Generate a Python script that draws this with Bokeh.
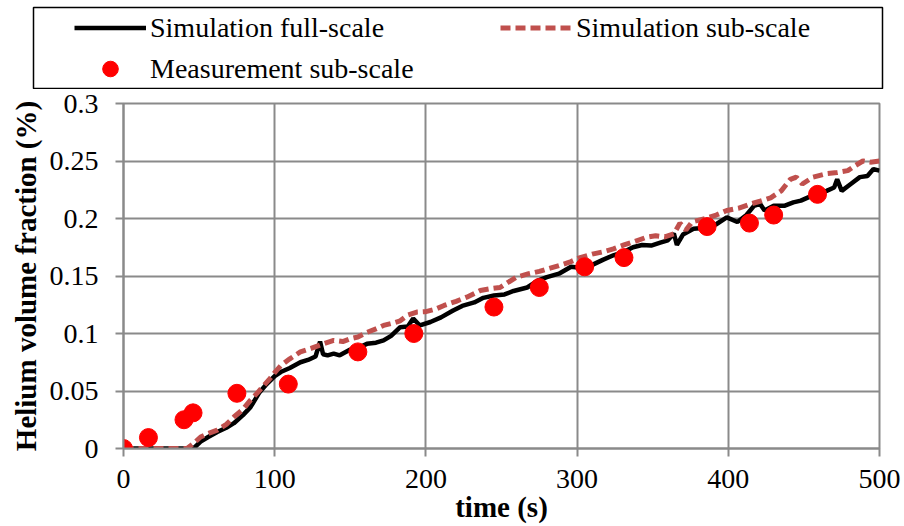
from bokeh.plotting import figure
from bokeh.models import Legend, LegendItem, FixedTicker
from bokeh.layouts import column
from bokeh.embed import file_html
from bokeh.resources import INLINE

# ---- data ----
full_t = [0, 44, 47, 51, 56, 62, 68, 73, 79, 84, 90, 94, 97, 100, 104, 110, 117, 122, 127, 130,
          132, 135, 139, 143, 150, 156, 161, 167, 172, 177, 183, 188, 191.6, 196, 203, 210, 218,
          224, 232, 238, 245, 252, 258, 267, 274, 280, 288, 296, 303, 309, 317, 324, 331, 337,
          343, 349, 355, 360, 364, 366, 370, 377, 385, 392, 399, 406, 412, 417, 421, 424, 430,
          437, 443, 448, 454, 459, 465, 470, 472, 475, 481, 487, 492, 496, 500]
full_y = [0, 0, 0.001, 0.006, 0.010, 0.0144, 0.018, 0.022, 0.029, 0.036, 0.049, 0.055, 0.059,
          0.063, 0.0665, 0.070, 0.075, 0.077, 0.080, 0.093, 0.082, 0.081, 0.0825, 0.081, 0.086,
          0.088, 0.091, 0.092, 0.094, 0.098, 0.1055, 0.106, 0.113, 0.107, 0.110, 0.114, 0.120,
          0.124, 0.127, 0.131, 0.133, 0.134, 0.137, 0.140, 0.146, 0.149, 0.152, 0.158, 0.157,
          0.159, 0.164, 0.168, 0.171, 0.175, 0.177, 0.1765, 0.179, 0.181, 0.187, 0.177, 0.186,
          0.191, 0.192, 0.195, 0.201, 0.197, 0.203, 0.211, 0.2127, 0.207, 0.211, 0.211, 0.214,
          0.2155, 0.219, 0.221, 0.224, 0.227, 0.234, 0.224, 0.230, 0.236, 0.237, 0.243, 0.2416]

sub_t = [0, 42, 46, 51, 56, 62, 68, 73, 79, 84, 89, 93, 97, 100, 104, 110, 117, 124, 130, 139,
         145, 150, 155, 161, 167, 172, 178, 183, 188, 194, 200, 206, 212, 220, 227, 236, 243, 249,
         255, 260, 268, 275, 280, 288, 295, 302, 310, 317, 324, 331, 338, 346, 352, 358, 364, 368,
         372, 376, 385, 392, 399, 407, 415, 421, 428, 435, 441, 445, 449, 456, 465, 472, 479, 484,
         489, 494, 500]
sub_y = [0, 0, 0.004, 0.010, 0.013, 0.016, 0.021, 0.0274, 0.034, 0.042, 0.049, 0.055, 0.061,
         0.066, 0.072, 0.078, 0.084, 0.087, 0.090, 0.094, 0.093, 0.0955, 0.097, 0.101, 0.104,
         0.107, 0.109, 0.111, 0.116, 0.1186, 0.119, 0.121, 0.1244, 0.128, 0.1316, 0.1374, 0.139,
         0.140, 0.145, 0.149, 0.152, 0.154, 0.156, 0.159, 0.162, 0.166, 0.169, 0.171, 0.1736,
         0.177, 0.180, 0.1837, 0.185, 0.184, 0.1866, 0.196, 0.190, 0.197, 0.200, 0.203, 0.207,
         0.209, 0.2127, 0.215, 0.218, 0.224, 0.234, 0.236, 0.230, 0.236, 0.239, 0.240, 0.2416,
         0.246, 0.250, 0.249, 0.250]

meas_t = [0, 16.5, 40, 46, 75, 109, 155, 192, 245, 275, 305, 331, 386, 414, 430, 459]
meas_y = [0, 0.0095, 0.025, 0.031, 0.048, 0.056, 0.084, 0.100, 0.123, 0.140, 0.158, 0.166,
          0.193, 0.196, 0.203, 0.221]

x_ticks = [0, 100, 200, 300, 400, 500]
y_ticks = [0, 0.05, 0.1, 0.15, 0.2, 0.25, 0.3]
y_tick_labels = ["0", "0.05", "0.1", "0.15", "0.2", "0.25", "0.3"]

label_full = "Simulation full-scale"
label_sub = "Simulation sub-scale"
label_meas = "Measurement sub-scale"
x_title = "time (s)"
y_title = "Helium volume fraction (%)"

# ---- styles ----
FONT = "Liberation Serif"
FS = "28px"
TFS = "29px"
GRID = "#8a8a8a"
FULL_STYLE = dict(line_color="black", line_width=4.5)
SUB_STYLE = dict(line_color="#c0504d", line_width=5, line_dash="10 5")
MEAS_STYLE = dict(size=18, fill_color="red", line_color="red", marker="circle")

# ---- legend strip (its frame is the legend box); series drawn off-view so the
#      legend samples take their styles ----
top = figure(width=904, height=89, x_range=(1000, 1001), y_range=(1000, 1001),
             output_backend="svg", toolbar_location=None,
             x_axis_location=None, y_axis_location=None,
             min_border_left=33, min_border_right=22, min_border_top=7, min_border_bottom=1)
top.frame_align = False
top.grid.visible = False
top.outline_line_color = "black"
top.outline_line_width = 1.5
top.background_fill_color = "white"
top.border_fill_color = "white"
d_full = top.line(full_t, full_y, **FULL_STYLE)
d_sub = top.line(sub_t, sub_y, **SUB_STYLE)
d_meas = top.scatter(meas_t, meas_y, **MEAS_STYLE)

leg = Legend(items=[LegendItem(label=label_full, renderers=[d_full]),
                    LegendItem(label=label_sub, renderers=[d_sub]),
                    LegendItem(label=label_meas, renderers=[d_meas])],
             location=(41, 0), orientation="horizontal", ncols=2,
             padding=0, margin=0, spacing=2,
             glyph_width=72, glyph_height=39, label_width=348, label_standoff=4,
             border_line_color=None, background_fill_alpha=0,
             label_text_font=FONT, label_text_font_size=FS, label_text_color="black")
top.add_layout(leg, "center")

# ---- main chart ----
p = figure(width=904, height=437, x_range=(0, 500), y_range=(0, 0.3),
           output_backend="svg", toolbar_location=None,
           min_border_left=123, min_border_right=25, min_border_top=14, min_border_bottom=78)
p.frame_align = False
p.background_fill_color = "white"
p.border_fill_color = "white"
p.outline_line_color = GRID
p.outline_line_width = 2

p.line(full_t, full_y, **FULL_STYLE)
p.line(sub_t, sub_y, **SUB_STYLE)
p.scatter(meas_t, meas_y, **MEAS_STYLE)

for ax in (p.xaxis[0], p.yaxis[0]):
    ax.axis_line_color = GRID
    ax.axis_line_width = 2
    ax.major_tick_line_color = GRID
    ax.major_tick_line_width = 2
    ax.major_tick_out = 8
    ax.major_tick_in = 0
    ax.minor_tick_line_color = None
    ax.major_label_text_font = FONT
    ax.major_label_text_font_size = FS
    ax.major_label_text_color = "black"
    ax.axis_label_text_font = FONT
    ax.axis_label_text_font_size = TFS
    ax.axis_label_text_font_style = "bold"
    ax.axis_label_text_color = "black"

p.xaxis[0].ticker = FixedTicker(ticks=x_ticks)
p.yaxis[0].ticker = FixedTicker(ticks=y_ticks)
p.yaxis[0].major_label_overrides = {t: s for t, s in zip(y_ticks, y_tick_labels)}
p.xaxis[0].axis_label = x_title
p.yaxis[0].axis_label = y_title
p.xaxis[0].major_label_standoff = 13
p.xaxis[0].axis_label_standoff = 0
p.yaxis[0].major_label_standoff = 17
p.yaxis[0].axis_label_standoff = 5

p.xgrid.grid_line_color = GRID
p.xgrid.grid_line_width = 2
p.xgrid.ticker = FixedTicker(ticks=x_ticks)
p.ygrid.grid_line_color = GRID
p.ygrid.grid_line_width = 2
p.ygrid.ticker = FixedTicker(ticks=y_ticks)

layout = column(top, p, spacing=0)
open("out.html", "w").write(file_html(layout, INLINE))
